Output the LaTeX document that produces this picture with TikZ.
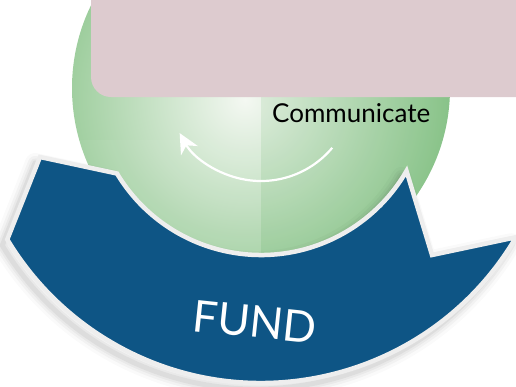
\documentclass[tikz,border=0pt]{standalone}
\usepackage{fontspec}
\setsansfont{Lato}
\usepackage{tikz}
\usetikzlibrary{arrows.meta}

% outline of the blue FUND band (pixel units, y pointing down)
\newcommand{\fundband}{(40,157) -- ([shift={(261,87)}]149:168)
  arc[start angle=149, end angle=30, radius=168] -- (432,255)
  -- ([shift={(261,87)}]30.5:296) arc[start angle=30.5, end angle=149, radius=296] -- cycle}

\begin{document}
\begin{tikzpicture}[x=1pt,y=-1pt,
    every node/.style={font=\sffamily, inner sep=0pt},
    band/.style={fill=fundblue, draw=rimgray, line width=4.5pt, line join=miter},
    bandshadow/.style={draw=black, line join=round, shift={(-5,6)}},
    loop arrow/.style={draw=white, line width=2.2pt, -{Stealth[length=20pt 0 0,width=19pt 0 0,inset=6pt 0 0]}}]
  % colours picked from the original graphic
  \definecolor{fundblue}{HTML}{0E5585}
  \definecolor{rimgray}{HTML}{EEEEEE}
  \definecolor{boxpink}{HTML}{DDCBCF}
  \definecolor{spherelight}{HTML}{F4F8F2}
  \definecolor{spheregreen}{HTML}{8CC58C}
  \definecolor{spheredark}{HTML}{4FA652}
  \useasboundingbox (0,0) rectangle (516,386);
  \clip (0,0) rectangle (516,386);
  % sphere
  \begin{scope}
    \clip (261,88) circle (189);
    \shade[inner color=spherelight, outer color=spheregreen] (245,100) circle (215);
    \fill[spheredark, opacity=0.12] (261,-110) rectangle (460,290);
    \fill[white, opacity=0.05] (60,140) rectangle (261,290);
  \end{scope}
  \draw[loop arrow] ([shift={(261,88)}]40:93) arc[start angle=40, end angle=151, radius=93];
  % top box
  \fill[boxpink, rounded corners=20pt] (91,-40) rectangle (560,97);
  \node[font=\sffamily\fontsize{26}{26}\selectfont, anchor=base west] (communicate) at (272,122) {Communicate};
  % band with soft shadow
  \foreach \w/\o in {20/0.02, 14/0.03, 9/0.04, 5/0.05}
    \draw[bandshadow, line width=\w pt, opacity=\o] \fundband;
  \draw[band] \fundband;
  \node[font=\sffamily\fontsize{44}{44}\selectfont, text=white, rotate=-6] (fund) at (255,322) {FUND};
\end{tikzpicture}
\end{document}
